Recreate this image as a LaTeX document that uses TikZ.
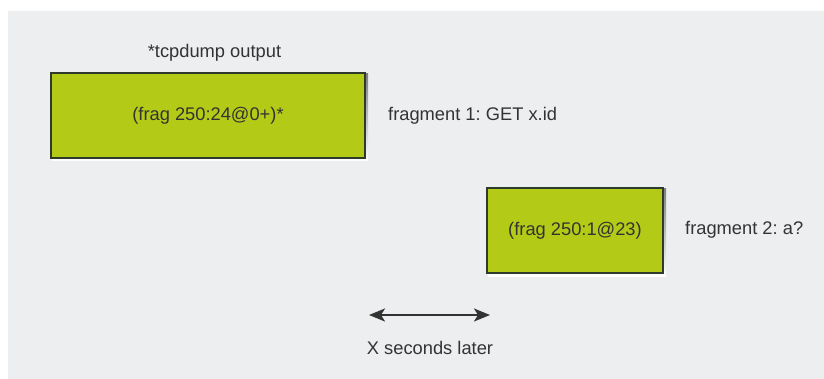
\documentclass[tikz,border=0pt]{standalone}
\usepackage{fontspec}
\setmainfont{Liberation Sans}
\frenchspacing
\usetikzlibrary{arrows.meta}
\definecolor{canvas}{HTML}{EDEEF0}
\definecolor{fragfill}{HTML}{B3CB17}
\definecolor{fragedge}{HTML}{2E3B2C}
\definecolor{ink}{HTML}{333333}
\definecolor{shade}{HTML}{D9DADC}
\tikzset{
  fragbox/.style={draw=fragedge, line width=2.4pt, fill=fragfill, text=ink,
    minimum height=85pt, inner sep=0pt,
    font=\fontsize{18.3}{22}\selectfont},
  plainlabel/.style={text=ink, inner sep=0pt, font=\fontsize{18.3}{22}\selectfont},
  timespan/.style={draw=ink, line width=2pt,
    {Stealth[length=16pt,width=13pt,inset=4pt]}-{Stealth[length=16pt,width=13pt,inset=4pt]}},
}
\begin{document}
\begin{tikzpicture}[x=1pt,y=-1pt]
  \useasboundingbox (0,0) rectangle (824,379);
  \fill[white] (0,0) rectangle (824,379);
  \fill[canvas] (8,11) rectangle (824,379);

  % soft drop shadows under the fragment boxes
  \fill[shade] (52,74) rectangle (368,161);
  \fill[shade] (488,189) rectangle (666,276);

  % fragment boxes
  \node[fragbox, minimum width=313.6pt] (f1) at (208,115.5) {(frag 250:24@0+)*};
  \node[fragbox, minimum width=175.6pt] (f2) at (575,230.5) {(frag 250:1@23)};

  % captions
  \node[plainlabel] (cap) at (214.5,53) {*tcpdump output};
  \node[plainlabel, anchor=west] (l1) at (388,116) {fragment 1: GET x.id};
  \node[plainlabel, anchor=west] (l2) at (685,230) {fragment 2: a?};

  % elapsed time between the two fragments
  \coordinate (t0) at (369,315);
  \coordinate (t1) at (490,315);
  \draw[timespan] (t0) -- (t1);
  \node[plainlabel] (gap) at (430,348) {X seconds later};
\end{tikzpicture}
\end{document}
